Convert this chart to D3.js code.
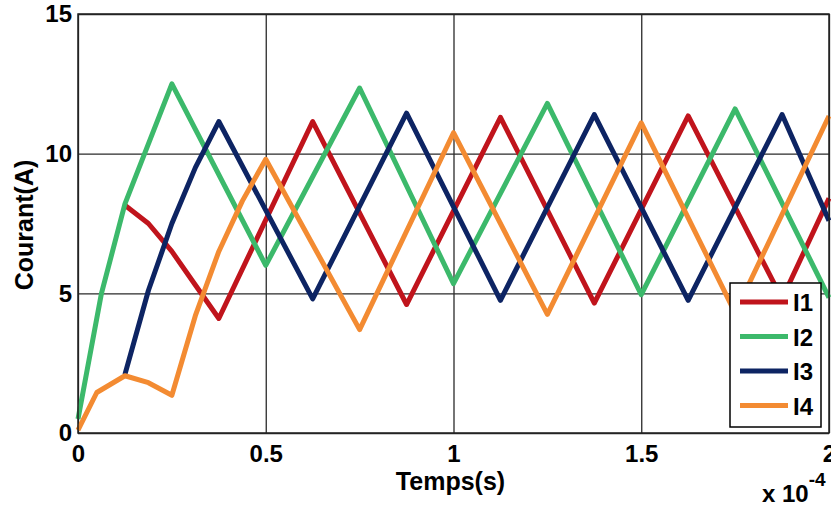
<!DOCTYPE html>
<html>
<head>
<meta charset="utf-8">
<script src="https://cdn.jsdelivr.net/npm/d3@7"></script>
<style>
  body { margin: 0; background: #fff; }
  svg text { font-family: "Liberation Sans", Arial, sans-serif; font-weight: bold; fill: #000; }
</style>
</head>
<body>
<div id="chart"></div>
<script>
// Time in units of 1e-4 s, currents in A
const tI1 = [0.125, 0.1875, 0.25, 0.3125, 0.375, 0.625, 0.875, 1.125, 1.375, 1.625, 1.875, 2.0];
const I1 = [8.15, 7.5, 6.5, 5.3, 4.1, 11.15, 4.6, 11.3, 4.65, 11.35, 4.8, 8.4];

const tI2 = [0, 0.0625, 0.125, 0.1875, 0.25, 0.5, 0.75, 1.0, 1.25, 1.5, 1.75, 2.0];
const I2 = [0.5, 5.0, 8.2, 10.35, 12.5, 6.0, 12.35, 5.35, 11.8, 4.95, 11.6, 4.85];

const tI3 = [0.125, 0.1875, 0.25, 0.3125, 0.375, 0.625, 0.875, 1.125, 1.375, 1.625, 1.875, 2.0];
const I3 = [2.1, 5.1, 7.5, 9.5, 11.15, 4.8, 11.45, 4.75, 11.4, 4.75, 11.4, 7.6];

const tI4 = [0, 0.05, 0.125, 0.1875, 0.25, 0.3125, 0.375, 0.4375, 0.5, 0.75, 1.0, 1.25, 1.5, 1.75, 2.0];
const I4 = [0.1, 1.45, 2.05, 1.8, 1.35, 4.2, 6.5, 8.3, 9.8, 3.7, 10.75, 4.25, 11.1, 4.3, 11.35];

const seriesNames = ["I1", "I2", "I3", "I4"];
const seriesColors = ["#c0141c", "#3cb96b", "#0d2463", "#f38b32"];
const xTicks = [0, 0.5, 1, 1.5, 2];
const yTicks = [0, 5, 10, 15];

const width = 831, height = 510;
const margin = { top: 14, right: 2, bottom: 77, left: 78 };
const innerW = width - margin.left - margin.right;
const innerH = height - margin.top - margin.bottom;

const series = [
    { name: seriesNames[0], t: tI1, v: I1 },
    { name: seriesNames[1], t: tI2, v: I2 },
    { name: seriesNames[2], t: tI3, v: I3 },
    { name: seriesNames[3], t: tI4, v: I4 }
];

const color = d3.scaleOrdinal().domain(seriesNames).range(seriesColors);

const svg = d3.select("#chart").append("svg")
    .attr("width", width)
    .attr("height", height);

const g = svg.append("g")
    .attr("transform", `translate(${margin.left}, ${margin.top})`);

const x = d3.scaleLinear().domain([0, 2]).range([0, innerW]);
const y = d3.scaleLinear().domain([0, 15]).range([innerH, 0]);

// Grid lines
g.append("g")
    .attr("transform", `translate(0, ${innerH})`)
    .call(d3.axisBottom(x).tickValues(xTicks).tickSize(-innerH).tickFormat(""))
    .call(a => a.select(".domain").remove())
    .call(a => a.selectAll(".tick line").attr("stroke", "#2a2a2a").attr("stroke-width", 1.3));

g.append("g")
    .call(d3.axisLeft(y).tickValues(yTicks).tickSize(-innerW).tickFormat(""))
    .call(a => a.select(".domain").remove())
    .call(a => a.selectAll(".tick line").attr("stroke", "#2a2a2a").attr("stroke-width", 1.3));

// Lines
const line = d3.line()
    .x(d => x(d[0]))
    .y(d => y(d[1]));

g.append("g").selectAll("path")
    .data(series)
    .join("path")
    .attr("fill", "none")
    .attr("stroke", d => color(d.name))
    .attr("stroke-width", 5)
    .attr("stroke-linejoin", "round")
    .attr("d", d => line(d.t.map((t, i) => [t, d.v[i]])));

// Frame
g.append("rect")
    .attr("width", innerW)
    .attr("height", innerH)
    .attr("fill", "none")
    .attr("stroke", "#222")
    .attr("stroke-width", 1.5);

// Axes labels
const xAxisG = g.append("g")
    .attr("transform", `translate(0, ${innerH})`)
    .call(d3.axisBottom(x).tickValues(xTicks).tickSize(0).tickPadding(12).tickFormat(d3.format("")));
xAxisG.select(".domain").remove();
xAxisG.selectAll("text").attr("font-size", 24);

const yAxisG = g.append("g")
    .call(d3.axisLeft(y).tickValues(yTicks).tickSize(0).tickPadding(6));
yAxisG.select(".domain").remove();
yAxisG.selectAll("text").attr("font-size", 24);

svg.append("text")
    .attr("x", margin.left + innerW / 2 - 3)
    .attr("y", 490)
    .attr("text-anchor", "middle")
    .attr("font-size", 25)
    .text("Temps(s)");

svg.append("text")
    .attr("transform", `translate(33, ${225}) rotate(-90)`)
    .attr("text-anchor", "middle")
    .attr("font-size", 25)
    .text("Courant(A)");

const expo = svg.append("text")
    .attr("x", 762)
    .attr("y", 502)
    .attr("font-size", 24);
expo.append("tspan").text("x 10");
expo.append("tspan").attr("dy", -16).attr("font-size", 19).text("-4");

// Legend
const legend = svg.append("g").attr("transform", "translate(730, 283)");
legend.append("rect")
    .attr("width", 91)
    .attr("height", 144)
    .attr("fill", "#fff")
    .attr("stroke", "#000")
    .attr("stroke-width", 1.5);

const items = legend.selectAll("g.item")
    .data(seriesNames)
    .join("g")
    .attr("class", "item")
    .attr("transform", (d, i) => `translate(0, ${19 + i * 34.5})`);

items.append("line")
    .attr("x1", 10).attr("x2", 58)
    .attr("stroke", d => color(d))
    .attr("stroke-width", 5);

items.append("text")
    .attr("x", 63)
    .attr("y", 9)
    .attr("font-size", 24)
    .text(d => d);
</script>
</body>
</html>
